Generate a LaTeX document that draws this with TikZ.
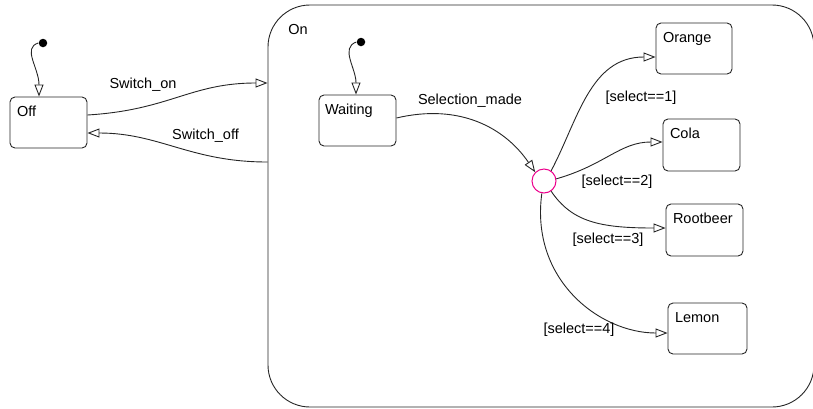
\documentclass[tikz,border=0pt]{standalone}
\usepackage{fontspec}
\setmainfont{Liberation Sans}
\usetikzlibrary{arrows.meta,calc}
\begin{document}
\begin{tikzpicture}[x=1pt,y=-1pt,
  font=\fontsize{14.5}{16}\selectfont,
  line width=0.9pt,
  statebox/.style={draw=black!85,rounded corners=5pt,minimum width=77pt,minimum height=51pt,inner sep=0pt},
  boxtext/.style={anchor=base west,inner sep=0pt},
  tlabel/.style={inner sep=0pt},
  dot/.style={circle,fill=black,minimum size=8.5pt,inner sep=0pt},
  trans/.style={draw=black!85,-{Triangle[open,length=12pt,width=9pt]}},
  junction/.style={circle,draw=magenta,line width=1pt,minimum size=24pt,inner sep=0pt}
]
\useasboundingbox (0,0) rectangle (813,408);
% On superstate
\node[draw=black!85,rounded corners=42pt,minimum width=546pt,minimum height=402pt,inner sep=0pt] (on) at (541,206) {};
\node[tlabel] (ontext) at (298,30) {On};
% states
\node[statebox] (off) at (48.5,122.5) {};
\node[boxtext] at ([shift={(7,20)}]off.north west) {Off};
\node[statebox] (wait) at (357.5,120.5) {};
\node[boxtext] at ([shift={(6,20)}]wait.north west) {Waiting};
\node[statebox,minimum width=76pt] (orange) at (694,48.5) {};
\node[boxtext] at ([shift={(7,20)}]orange.north west) {Orange};
\node[statebox,minimum height=52pt] (cola) at (701.5,145) {};
\node[boxtext] at ([shift={(7,20)}]cola.north west) {Cola};
\node[statebox,minimum height=52pt] (root) at (704.5,230) {};
\node[boxtext] at ([shift={(7,20)}]root.north west) {Rootbeer};
\node[statebox,minimum width=79pt] (lemon) at (707.5,328.5) {};
\node[boxtext] at ([shift={(7,20)}]lemon.north west) {Lemon};
% junction
\node[junction] (j) at (544,181) {};
% default transitions
\node[dot] (d1) at (43,43) {};
\node[dot] (d2) at (361,42) {};
\draw[trans] (d1.west) .. controls (22,48) and (39,68) .. (off.north -| 39,0);
\draw[trans] (d2.west) .. controls (340,48) and (356,68) .. (wait.north -| 356,0);
% Off <-> On
\coordinate (oni) at (on.west |- 0,83);
\coordinate (ono) at (on.west |- 0,162);
\draw[trans] ([yshift=7.5]off.east) .. controls (170,110) and (190,83) .. (oni);
\draw[trans] (ono) .. controls (190,162) and (160,133) .. ([yshift=-10.5]off.east);
\node[tlabel] (l1) at (143,85) {Switch\_on};
\node[tlabel] (l2) at (205.5,135.5) {Switch\_off};
% Selection
\draw[trans] ([yshift=2.5]wait.east) .. controls (460,103) and (505,128) .. (j.north west);
\node[tlabel] (l3) at (470,101) {Selection\_made};
% junction outputs
\draw[trans] (j.55) .. controls (578,120) and (590,57) .. (orange.west |- 0,57);
\draw[trans] (j.10) .. controls (605,165) and (620,142) .. (cola.west |- 0,142);
\draw[trans] (j.-55) .. controls (572,222) and (600,228) .. (root.west |- 0,228);
\draw[trans] (j.-100) .. controls (530,280) and (600,333) .. (lemon.west |- 0,333);
\node[tlabel] (s1) at (641,98) {[select==1]};
\node[tlabel] (s2) at (617,182) {[select==2]};
\node[tlabel] (s3) at (608,240) {[select==3]};
\node[tlabel] (s4) at (579,330) {[select==4]};
\end{tikzpicture}
\end{document}
